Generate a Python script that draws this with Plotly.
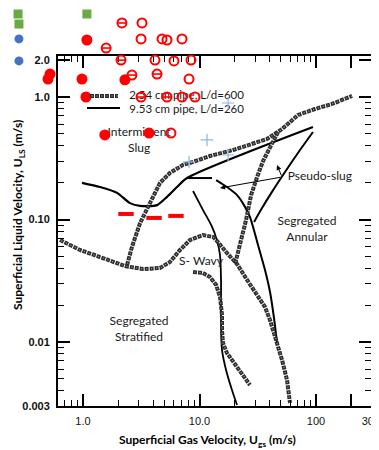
import plotly.graph_objects as go

# ---------------- data (Ugs m/s, Uls m/s) ----------------
# 2.54 cm pipe, L/d=600 (dotted boundaries)
dot_strat_wavy_x = [0.635, 0.942, 1.40, 2.29, 3.27, 4.58, 5.58, 6.80, 8.29, 10.7, 13.1, 14.4, 17.2, 21.0, 25.6, 31.2, 36.5, 40.3, 46.3, 51.1, 56.4, 59.8]
dot_strat_wavy_y = [0.0680, 0.0564, 0.0494, 0.0417, 0.0394, 0.0402, 0.0450, 0.0564, 0.0680, 0.0747, 0.0720, 0.0655, 0.0533, 0.0433, 0.0321, 0.0246, 0.0193, 0.0151, 0.00981, 0.00713, 0.00490, 0.00318]
dot_slug_x = [2.39, 2.63, 3.09, 3.54, 3.99, 4.58, 5.58, 7.22, 8.80, 12.3, 19.4, 27.1, 38.0, 51.1, 70.1, 98.0, 137, 204]
dot_slug_y = [0.0425, 0.0596, 0.0936, 0.120, 0.153, 0.199, 0.240, 0.279, 0.295, 0.330, 0.369, 0.406, 0.454, 0.548, 0.713, 0.798, 0.877, 1.02]
dot_annular_x = [47.2, 40.3, 35.1, 31.2, 27.7, 25.1, 22.7, 21.0, 20.2]
dot_annular_y = [0.518, 0.391, 0.300, 0.222, 0.158, 0.0991, 0.0655, 0.0494, 0.0433]
dot_wavy_x = [8.80, 10.7, 12.3, 13.9, 15.0, 15.6, 15.6, 15.9, 17.2, 21.0, 27.1]
dot_wavy_y = [0.0373, 0.0366, 0.0339, 0.0292, 0.0233, 0.0166, 0.0125, 0.00981, 0.00813, 0.00625, 0.00446]

# 9.53 cm pipe, L/d=260 (solid boundaries)
sol_slug_x = [0.980, 1.40, 1.96, 2.53, 3.09, 4.32, 5.26, 6.41, 7.81, 94.2]
sol_slug_y = [0.199, 0.184, 0.165, 0.136, 0.129, 0.131, 0.153, 0.184, 0.218, 0.569]
sol_pseudo_x = [7.81, 12.8, None, 13.9, 17.2, 21.0, 24.1, 27.1, 31.8, 36.5, 40.3, 43.6, 46.3]
sol_pseudo_y = [0.218, 0.218, None, 0.210, 0.184, 0.158, 0.131, 0.105, 0.0619, 0.0387, 0.0256, 0.0157, 0.00981]
sol_wavy_x = [8.80, 10.7, 12.6, 14.1, 15.0, 15.3, 15.3, 15.6, 16.9, 19.0, 21.0]
sol_wavy_y = [0.171, 0.120, 0.0902, 0.0680, 0.0513, 0.0321, 0.0151, 0.00861, 0.00591, 0.00406, 0.00306]
sol_annular_x = [94.2, 72.9, 54.2, 41.9, 34.4, 29.4]
sol_annular_y = [0.518, 0.369, 0.244, 0.168, 0.124, 0.0954]

# overlaid experimental points
red_filled_x = [1.08, 0.521, 0.501, 0.980, 2.29, 1.06, 1.54, 3.69]
red_filled_y = [2.92, 1.54, 1.40, 1.40, 1.38, 1.00, 0.490, 0.508]
red_open_x = [3.21, 3.15, 4.77, 5.26, 7.08, 4.15, 6.04, 8.45, 8.13, 7.08, 9.15, 5.69]
red_open_y = [4.02, 2.98, 2.98, 2.92, 2.98, 2.00, 1.97, 2.00, 1.40, 1.00, 1.00, 0.508]
red_bar_x = [2.16, 1.58, 2.12, 2.63, 4.32, 3.15, 5.26]
red_bar_y = [4.02, 2.51, 2.00, 1.51, 1.54, 1.00, 1.00]
red_dash_x = [2.34, 4.07, 6.28]
red_dash_y = [0.111, 0.103, 0.107]
green_x = [0.277, 0.282, 1.08]
green_y = [4.76, 3.94, 4.76]
blue_x = [0.282, 0.282]
blue_y = [2.98, 1.97]
plus_x = [17.6, 11.6, 17.6, 8.13]
plus_y = [0.893, 0.446, 0.336, 0.295]

x_tickvals = [1, 10, 100, 200, 296]
x_ticktext = ["1.0", "10.0", "100", "", "300"]
y_tickvals = [0.00302, 0.01, 0.1, 1, 2]
y_ticktext = ["0.003", "0.01", "0.10", "1.0", "2.0"]
x_minor = [0.7, 0.8, 0.9] + [k for k in range(2, 10)] + [10 * k for k in range(2, 10)]
y_minor = [0.001 * k for k in range(4, 10)] + [0.01 * k for k in range(2, 10)] + [0.1 * k for k in range(2, 10)]

DOT_DARK = "#2c2c2c"
DOT_LIGHT = "#9a9a9a"
DOT_OUT = "4px,1px"
DOT_IN = "0px,1.5px,1px,2.5px"
RED = "#ff0000"
LABEL_FONT = "Lato"

# page layout: the html body has an 8px margin, so the figure is laid out in
# coordinates of the window minus that offset
OFF = 8
WIN_W, WIN_H = 379, 450
W, H = WIN_W - OFF, WIN_H - OFF


def px(xw):
    return (xw - OFF) / W


def py(yw):
    return 1 - (yw - OFF) / H


fig = go.Figure()


def add_dotted(x, y):
    fig.add_trace(go.Scatter(x=x, y=y, mode="lines", line=dict(color=DOT_DARK, width=4, dash=DOT_OUT),
                             hoverinfo="skip", xaxis="x", yaxis="y"))
    fig.add_trace(go.Scatter(x=x, y=y, mode="lines", line=dict(color=DOT_LIGHT, width=1.3, dash=DOT_IN),
                             hoverinfo="skip", xaxis="x", yaxis="y"))


def add_solid(x, y, w=1.8):
    fig.add_trace(go.Scatter(x=x, y=y, mode="lines", line=dict(color="black", width=w, shape="spline", smoothing=0.7),
                             connectgaps=False, hoverinfo="skip", xaxis="x", yaxis="y"))


add_solid(sol_slug_x, sol_slug_y, 2.2)
add_solid(sol_pseudo_x, sol_pseudo_y, 2.0)
add_solid(sol_wavy_x, sol_wavy_y, 1.8)
add_solid(sol_annular_x, sol_annular_y, 2.0)
add_dotted(dot_strat_wavy_x, dot_strat_wavy_y)
add_dotted(dot_slug_x, dot_slug_y)
add_dotted(dot_annular_x, dot_annular_y)
add_dotted(dot_wavy_x, dot_wavy_y)

# region labels (drawn beneath the overlaid points)
labels = [
    (3.03, 0.437, "Intermittent<br>Slug", "middle center", 12),
    (83.7, 0.0821, "Segregated<br>Annular", "middle center", 12),
    (10.3, 0.0450, "S- Wavy", "middle center", 12),
    (3.03, 0.01253, "Segregated<br>Stratified", "middle center", 12),
    (108, 0.222, "Pseudo-slug", "middle center", 12),
    (2.50, 1.019, "2.54 cm pipe, L/d=600", "middle right", 11.5),
    (2.50, 0.783, "9.53 cm pipe, L/d=260", "middle right", 11.5),
]
for lx, ly, txt, pos, fs in labels:
    fig.add_trace(go.Scatter(x=[lx], y=[ly], mode="text", text=[txt], textposition=pos,
                             textfont=dict(family=LABEL_FONT, size=fs, color="#1a1a1a"),
                             hoverinfo="skip", xaxis="x2", yaxis="y2", cliponaxis=False))

common = dict(mode="markers", hoverinfo="skip", xaxis="x2", yaxis="y2", cliponaxis=False)
fig.add_trace(go.Scatter(x=plus_x, y=plus_y, marker=dict(symbol="cross-thin", size=9,
                         line=dict(color="#8fb6e6", width=1.2)), **common))
fig.add_trace(go.Scatter(x=green_x, y=green_y, marker=dict(symbol="square", size=9, color="#6aaa45"), **common))
fig.add_trace(go.Scatter(x=blue_x, y=blue_y, marker=dict(symbol="circle", size=9, color="#4472c4"), **common))
fig.add_trace(go.Scatter(x=red_filled_x, y=red_filled_y, marker=dict(symbol="circle", size=11, color=RED), **common))
fig.add_trace(go.Scatter(x=red_open_x, y=red_open_y, marker=dict(symbol="circle-open", size=9,
                         line=dict(color=RED, width=2), color=RED), **common))
fig.add_trace(go.Scatter(x=red_bar_x, y=red_bar_y, marker=dict(symbol="circle-open", size=9,
                         line=dict(color=RED, width=2), color=RED), **common))
fig.add_trace(go.Scatter(x=red_bar_x, y=red_bar_y, marker=dict(symbol="line-ew", size=7,
                         line=dict(color=RED, width=1.6)), **common))
fig.add_trace(go.Scatter(x=red_dash_x, y=red_dash_y, marker=dict(symbol="line-ew", size=11,
                         line=dict(color=RED, width=4)), **common))

# plot frame in window pixels and log scale per pixel
L, R, T, B = 58, 371, 56, 406
X0, XD = 83, 116.5     # window px of Ugs=1, px per decade
Y0, YD = 97, 122.5     # window px of Uls=1, px per decade
fig.update_layout(
    width=W, height=H, margin=dict(l=0, r=0, t=0, b=0, autoexpand=False),
    paper_bgcolor="white", plot_bgcolor="rgba(0,0,0,0)", showlegend=False,
    font=dict(family=LABEL_FONT, size=12, color="black"),
    xaxis=dict(type="log", domain=[px(L), px(R)], range=[(L - X0) / XD, (R - X0) / XD], anchor="y",
               automargin=False, ticklabeloverflow="allow",
               showline=True, linecolor="black", linewidth=2, mirror="allticks",
               ticks="inside", ticklen=12, tickwidth=1.5, tickcolor="black",
               tickmode="array", tickvals=x_tickvals, ticktext=x_ticktext,
               tickfont=dict(family="Liberation Sans", size=11, color="#111"),
               ticklabelstandoff=4,
               minor=dict(tickmode="array", tickvals=x_minor, ticks="inside", ticklen=6,
                          tickwidth=1.2, tickcolor="black", showgrid=False),
               showgrid=False, zeroline=False),
    yaxis=dict(type="log", domain=[py(B), py(T)], range=[(Y0 - B) / YD, (Y0 - T) / YD], anchor="x",
               automargin=False, ticklabeloverflow="allow",
               showline=True, linecolor="black", linewidth=2, mirror="allticks",
               ticks="inside", ticklen=12, tickwidth=1.5, tickcolor="black",
               tickmode="array", tickvals=y_tickvals, ticktext=y_ticktext,
               tickfont=dict(family="Liberation Sans", size=11, color="#111", weight="bold"),
               ticklabelstandoff=4,
               minor=dict(tickmode="array", tickvals=y_minor, ticks="inside", ticklen=6,
                          tickwidth=1.2, tickcolor="black", showgrid=False),
               showgrid=False, zeroline=False),
    xaxis2=dict(type="log", domain=[0, 1], range=[(OFF - X0) / XD, (WIN_W - X0) / XD], anchor="y2",
                visible=False, automargin=False),
    yaxis2=dict(type="log", domain=[0, 1], range=[(Y0 - WIN_H) / YD, (Y0 - OFF) / YD], anchor="x2",
                visible=False, automargin=False),
)

# legend samples
fig.add_shape(type="line", xref="paper", yref="paper", x0=px(90), x1=px(118), y0=py(96), y1=py(96),
              line=dict(color=DOT_DARK, width=4, dash=DOT_OUT))
fig.add_shape(type="line", xref="paper", yref="paper", x0=px(90), x1=px(118), y0=py(96), y1=py(96),
              line=dict(color=DOT_LIGHT, width=1.3, dash=DOT_IN))
fig.add_shape(type="line", xref="paper", yref="paper", x0=px(87), x1=px(120), y0=py(108), y1=py(108),
              line=dict(color="black", width=2))

# pseudo-slug arrows
fig.add_annotation(x=px(220), y=py(188), xref="paper", yref="paper", text="", showarrow=True,
                   ax=62, ay=-11, arrowhead=2, arrowsize=1, arrowwidth=1, arrowcolor="black")
fig.add_annotation(x=px(277), y=py(165), xref="paper", yref="paper", text="", showarrow=True,
                   ax=5, ay=12, arrowhead=2, arrowsize=1, arrowwidth=1, arrowcolor="black")

# axis titles
fig.add_annotation(x=px(208), y=py(440), xref="paper", yref="paper", showarrow=False,
                   xanchor="center", yanchor="middle",
                   text="<b>Superficial Gas Velocity, U<sub>gs</sub> (m/s)</b>",
                   font=dict(family=LABEL_FONT, size=12, color="black"))
fig.add_annotation(x=px(18), y=py(215), xref="paper", yref="paper", showarrow=False, textangle=-90,
                   xanchor="center", yanchor="middle",
                   text="<b>Superficial Liquid Velocity, U<sub>LS</sub> (m/s)</b>",
                   font=dict(family=LABEL_FONT, size=12, color="black"))

fig.write_html("out.html")
